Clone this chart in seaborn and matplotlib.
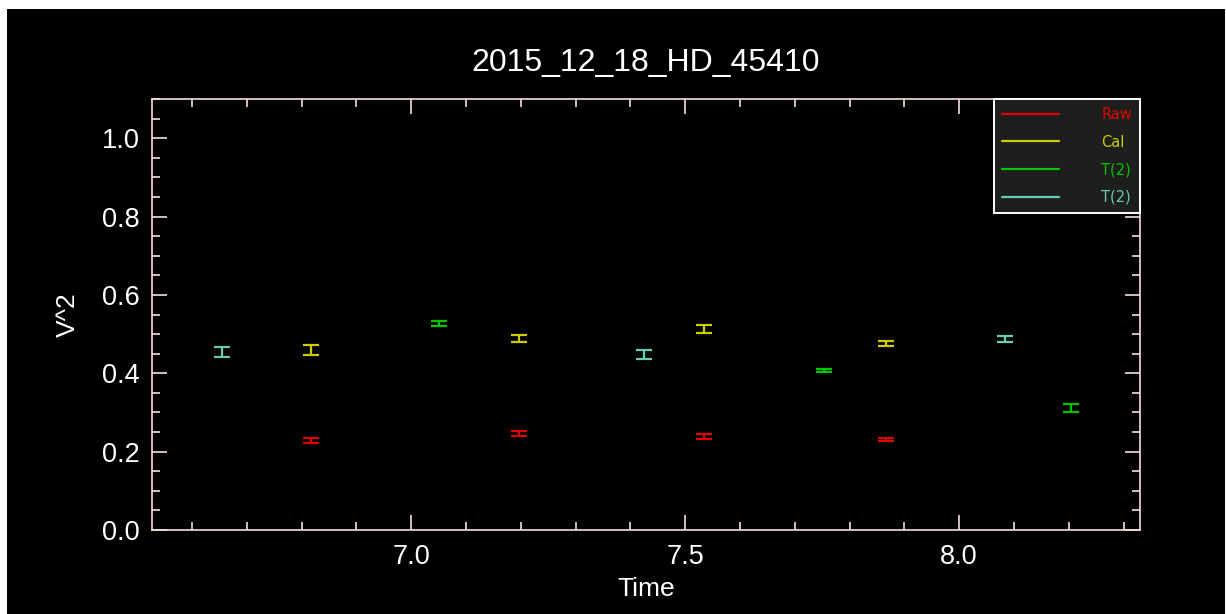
import matplotlib
matplotlib.use("Agg")
import matplotlib.pyplot as plt
from matplotlib.lines import Line2D
from matplotlib.patches import Rectangle
from matplotlib.ticker import MultipleLocator, FormatStrFormatter
import numpy as np
import pandas as pd
import seaborn as sns

# Observation times (hours) and squared visibilities with 1-sigma errors
raw_time = [6.818, 7.197, 7.535, 7.867]
raw_v2 = [0.229, 0.247, 0.239, 0.231]
raw_err = [0.0064, 0.0060, 0.0056, 0.0050]

cal_time = [6.818, 7.197, 7.535, 7.867]
cal_v2 = [0.459, 0.489, 0.513, 0.476]
cal_err = [0.0128, 0.0098, 0.0094, 0.0064]

t2a_time = [7.051, 7.754, 8.204]
t2a_v2 = [0.527, 0.407, 0.311]
t2a_err = [0.0068, 0.0050, 0.0107]

t2b_time = [6.655, 7.425, 8.084]
t2b_v2 = [0.455, 0.448, 0.488]
t2b_err = [0.0128, 0.0110, 0.0072]

series_names = ["Raw", "Cal", "T(2)", "T(2) "]
legend_labels = ["Raw", "Cal", "T(2)", "T(2)"]
series_colors = ["#e00000", "#cccc00", "#00c800", "#66ccb3"]

title_text = "2015_12_18_HD_45410"
x_label = "Time"
y_label = "V^2"

frames = []
for name, t, v, e in zip(series_names,
                         [raw_time, cal_time, t2a_time, t2b_time],
                         [raw_v2, cal_v2, t2a_v2, t2b_v2],
                         [raw_err, cal_err, t2a_err, t2b_err]):
    frames.append(pd.DataFrame({"time": t, "v2": v, "err": e, "series": name}))
df = pd.concat(frames, ignore_index=True)
palette = dict(zip(series_names, series_colors))

sns.set_style("ticks")
plt.rcParams["font.family"] = ["Liberation Sans", "DejaVu Sans"]

fg = "#f8dcdc"
fig = plt.figure(figsize=(12.26, 6.14), dpi=100, facecolor="white")
# black plotting canvas inside a thin white margin
fig.patches.append(Rectangle((7 / 1226, 0), 1218 / 1226, 605 / 614,
                             transform=fig.transFigure, facecolor="black",
                             edgecolor="none", zorder=-10))

ax = fig.add_axes([152 / 1226, 84 / 614, 988 / 1226, 431 / 614])
ax.set_facecolor("black")

sns.scatterplot(data=df, x="time", y="v2", hue="series", palette=palette,
                marker=".", s=6, linewidth=0, legend=False, ax=ax, zorder=3)
for name in series_names:
    sub = df[df["series"] == name]
    ax.errorbar(sub["time"], sub["v2"], yerr=sub["err"], fmt="none",
                ecolor=palette[name], elinewidth=1.6, capsize=5.8,
                capthick=1.6, zorder=2)

ax.set_xlim(6.527, 8.330)
ax.set_ylim(0.0, 1.1)
ax.xaxis.set_major_locator(MultipleLocator(0.5))
ax.xaxis.set_minor_locator(MultipleLocator(0.1))
ax.yaxis.set_major_locator(MultipleLocator(0.2))
ax.yaxis.set_minor_locator(MultipleLocator(0.05))
ax.xaxis.set_major_formatter(FormatStrFormatter("%.1f"))
ax.yaxis.set_major_formatter(FormatStrFormatter("%.1f"))

for s in ax.spines.values():
    s.set_color(fg)
    s.set_linewidth(1.2)
ax.tick_params(which="both", direction="in", top=True, right=True,
               colors=fg, labelcolor="white", labelsize=19.5, width=1.2)
ax.tick_params(which="major", length=10.5)
ax.tick_params(which="minor", length=5.5)
ax.tick_params(axis="x", which="major", pad=10)
ax.tick_params(axis="y", which="major", pad=9)

ax.set_xlabel(x_label, color="white", fontsize=19, labelpad=5)
ax.set_ylabel(y_label, color="white", fontsize=19, labelpad=16)
ax.set_title(title_text, color="white", fontsize=23, pad=20)

handles = [Line2D([0], [0], color=c, lw=1.6) for c in series_colors]
leg = ax.legend(handles, legend_labels, loc="upper right", borderaxespad=0,
                frameon=True, fancybox=False, facecolor="#1e1e1e",
                edgecolor="white", framealpha=1.0, handlelength=3.9,
                handletextpad=2.9, labelspacing=0.86, borderpad=0.55,
                prop={"family": "DejaVu Sans", "size": 10.5})
leg.get_frame().set_linewidth(1.4)
for txt, c in zip(leg.get_texts(), series_colors):
    txt.set_color(c)

fig.savefig("out.png", dpi=100, facecolor=fig.get_facecolor())
